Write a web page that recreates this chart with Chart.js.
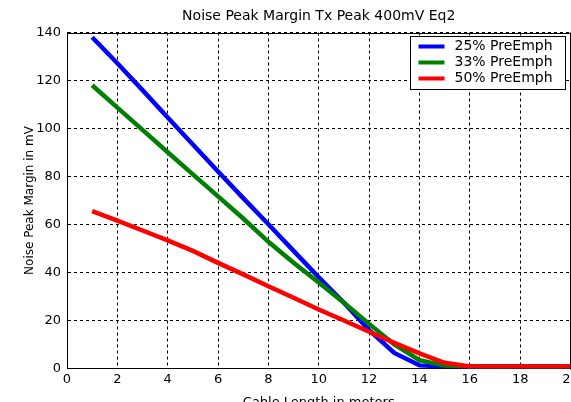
<!DOCTYPE html>
<html>
<head>
<meta charset="utf-8">
<title>Noise Peak Margin Tx Peak 400mV Eq2</title>
<script src="https://cdn.jsdelivr.net/npm/chart.js@4.4.0/dist/chart.umd.min.js"></script>
<style>
html, body { margin: 0; padding: 0; background: #fff; overflow: hidden; }
#myChart { display: block; }
</style>
</head>
<body>
<canvas id="myChart" width="600" height="412"></canvas>
<script>
// cable length in meters
var cableLength = [1, 2, 3, 4, 5, 6, 7, 8, 9, 10, 11, 12, 13, 14, 15, 16, 17, 18, 19, 20];
// noise peak margin in mV for each pre-emphasis setting
var preEmph25 = [138, 127.2, 116, 104.6, 93.3, 82.1, 71, 60.1, 49, 38, 27.4, 16, 6.5, 1.3, 0.8, 0.8, 0.8, 0.8, 0.8, 0.8];
var preEmph33 = [118, 108.7, 99.4, 90.1, 80.9, 71.7, 62.5, 52.8, 44.1, 35.8, 27.4, 18.6, 10, 3.5, 1.2, 0.8, 0.8, 0.8, 0.8, 0.8];
var preEmph50 = [65.6, 61.6, 57.5, 53.4, 49, 44, 39.2, 34.3, 29.5, 24.6, 20, 15.3, 10.7, 6.3, 2.4, 0.8, 0.8, 0.8, 0.8, 0.8];

var seriesLabels = ['25% PreEmph', '33% PreEmph', '50% PreEmph'];
var seriesColors = ['#0000ff', '#008000', '#ff0000'];

var xTicks = [0, 2, 4, 6, 8, 10, 12, 14, 16, 18, 20];
var yTicks = [0, 20, 40, 60, 80, 100, 120, 140];

function points(values) {
    return values.map(function (v, i) { return { x: cableLength[i], y: v }; });
}

Chart.defaults.font.family = '"DejaVu Sans", sans-serif';
Chart.defaults.color = '#000';

// solid box around the plot area
var frame = {
    id: 'frame',
    beforeDatasetsDraw: function (chart) {
        var a = chart.chartArea, c = chart.ctx;
        c.save();
        c.strokeStyle = '#000';
        c.lineWidth = 1;
        c.beginPath();
        c.moveTo(Math.round(a.left) + 0.5, Math.round(a.top) + 0.5);
        c.lineTo(Math.round(a.right) - 0.5, Math.round(a.top) + 0.5);
        c.lineTo(Math.round(a.right) - 0.5, Math.round(a.bottom) + 0.5);
        c.stroke();
        c.restore();
    }
};

// boxed legend in the upper right corner of the plot
var boxLegend = {
    id: 'boxLegend',
    afterDatasetsDraw: function (chart) {
        var a = chart.chartArea, c = chart.ctx;
        var left = Math.round(a.right - 161) + 0.5, top = Math.round(a.top + 3) + 0.5;
        c.save();
        c.fillStyle = '#fff';
        c.fillRect(left, top, 155, 53);
        c.strokeStyle = '#000';
        c.lineWidth = 1;
        c.strokeRect(left, top, 155, 53);
        c.font = '14px "DejaVu Sans", sans-serif';
        c.textBaseline = 'middle';
        c.textAlign = 'left';
        seriesLabels.forEach(function (label, i) {
            var y = top + 10 + i * 16;
            c.strokeStyle = seriesColors[i];
            c.lineWidth = 4;
            c.beginPath();
            c.moveTo(left + 8, y);
            c.lineTo(left + 34, y);
            c.stroke();
            c.fillStyle = '#000';
            c.fillText(label, left + 44, y);
        });
        c.restore();
    }
};

var series = [preEmph25, preEmph33, preEmph50];

var ctx = document.getElementById('myChart').getContext('2d');
var myChart = new Chart(ctx, {
    type: 'line',
    data: {
        datasets: series.map(function (values, i) {
            return {
                label: seriesLabels[i],
                data: points(values),
                borderColor: seriesColors[i],
                backgroundColor: seriesColors[i],
                borderWidth: 4.5,
                pointRadius: 0,
                tension: 0,
                order: 3 - i
            };
        })
    },
    options: {
        responsive: false,
        animation: false,
        layout: {
            padding: { left: 0, right: 29.5, top: 0, bottom: 0 }
        },
        plugins: {
            legend: { display: false },
            tooltip: { enabled: false },
            title: {
                display: true,
                text: 'Noise Peak Margin Tx Peak 400mV Eq2',
                fullSize: false,
                color: '#000',
                font: { size: 14, weight: 'normal' },
                padding: { top: 8, bottom: 7.7 }
            }
        },
        scales: {
            x: {
                type: 'linear',
                min: 0,
                max: 20,
                afterBuildTicks: function (axis) {
                    axis.ticks = xTicks.map(function (v) { return { value: v }; });
                },
                afterFit: function (axis) { axis.height = 43.5; },
                ticks: { padding: 3, font: { size: 13 }, color: '#000', maxRotation: 0 },
                grid: { color: '#000', lineWidth: 1, drawTicks: false },
                border: { display: true, color: '#000', width: 1, dash: [3, 3] },
                title: {
                    display: true,
                    text: 'Cable Length in meters',
                    color: '#000',
                    font: { size: 13 },
                    padding: { top: 0, bottom: 2 }
                }
            },
            y: {
                min: 0,
                max: 140,
                afterBuildTicks: function (axis) {
                    axis.ticks = yTicks.map(function (v) { return { value: v }; });
                },
                afterFit: function (axis) { axis.width = 67; },
                ticks: { padding: 6, font: { size: 13 }, color: '#000' },
                grid: { color: '#000', lineWidth: 1, drawTicks: false },
                border: { display: true, color: '#000', width: 1, dash: [3, 3] },
                title: {
                    display: true,
                    text: 'Noise Peak Margin in mV',
                    color: '#000',
                    font: { size: 12 },
                    padding: { top: 23, bottom: 0 }
                }
            }
        }
    },
    plugins: [frame, boxLegend]
});
</script>
</body>
</html>
